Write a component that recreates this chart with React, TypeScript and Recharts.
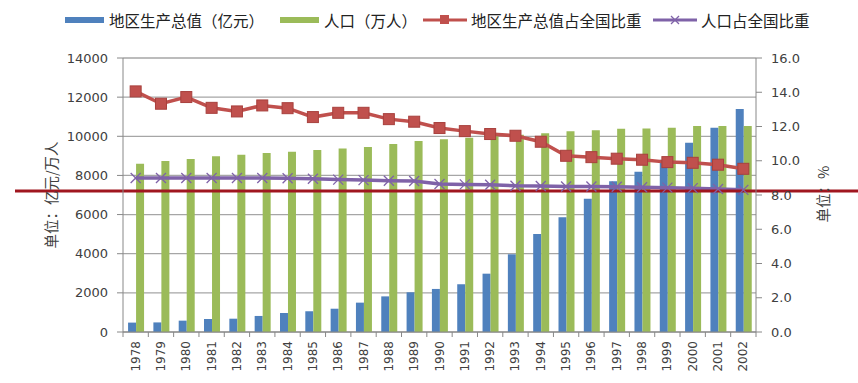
import {
  ComposedChart,
  Bar,
  Line,
  XAxis,
  YAxis,
  CartesianGrid,
  ReferenceLine,
} from 'recharts';

const years = [
  '1978', '1979', '1980', '1981', '1982', '1983', '1984', '1985', '1986', '1987',
  '1988', '1989', '1990', '1991', '1992', '1993', '1994', '1995', '1996', '1997',
  '1998', '1999', '2000', '2001', '2002',
];

// 地区生产总值（亿元）
const gdp = [
  480, 490, 580, 665, 680, 820, 970, 1060, 1190, 1500,
  1820, 2030, 2200, 2440, 2980, 3970, 5010, 5860, 6810, 7700,
  8190, 8800, 9675, 10440, 11400,
];

// 人口（万人）
const population = [
  8600, 8740, 8840, 8980, 9060, 9150, 9215, 9300, 9370, 9455,
  9607, 9760, 9845, 9930, 10000, 10080, 10160, 10255, 10305, 10390,
  10400, 10440, 10525, 10530, 10530,
];

// 地区生产总值占全国比重 (%)
const gdpShare = [
  14.05, 13.33, 13.72, 13.09, 12.88, 13.23, 13.07, 12.55, 12.8, 12.8,
  12.43, 12.28, 11.91, 11.73, 11.56, 11.46, 11.11, 10.29, 10.21, 10.12,
  10.06, 9.92, 9.88, 9.77, 9.53,
];

// 人口占全国比重 (%)
const popShare = [
  8.99, 8.99, 8.99, 8.99, 8.99, 8.99, 8.98, 8.95, 8.9, 8.87,
  8.83, 8.82, 8.64, 8.62, 8.6, 8.54, 8.53, 8.5, 8.5, 8.48,
  8.45, 8.43, 8.4, 8.35, 8.3,
];

const leftTicks = [0, 2000, 4000, 6000, 8000, 10000, 12000, 14000];
const rightTicks = [0, 2, 4, 6, 8, 10, 12, 14, 16];
const markLine = 7200;

const data = years.map((year, i) => ({
  year,
  gdp: gdp[i],
  population: population[i],
  gdpShare: gdpShare[i],
  popShare: popShare[i],
}));

const BLUE = '#4F81BD';
const GREEN = '#9BBB59';
const RED = '#C0504D';
const PURPLE = '#7F62A8';
const CJK = '"Noto Sans CJK SC", sans-serif';
const NUM = '"DejaVu Sans", sans-serif';

const W = 858;
const H = 383;
const PLOT_W = 858 - 123 - 102;
const BAND = PLOT_W / years.length;

function XTick(props: any) {
  const { x, y, payload, index } = props;
  const axisY = y - 8;
  return (
    <g>
      <line x1={x - BAND / 2} x2={x - BAND / 2} y1={axisY} y2={axisY + 5} stroke="#888" />
      {index === years.length - 1 && (
        <line x1={x + BAND / 2} x2={x + BAND / 2} y1={axisY} y2={axisY + 5} stroke="#888" />
      )}
      <text
        x={x}
        y={y + 1}
        transform={`rotate(-90 ${x} ${y + 1})`}
        textAnchor="end"
        dominantBaseline="central"
        fontFamily={NUM}
        fontSize={12}
        fill="#404040"
      >
        {payload.value}
      </text>
    </g>
  );
}

function SquareDot(props: any) {
  const { cx, cy } = props;
  if (cx == null || cy == null) return null;
  return <rect x={cx - 5.5} y={cy - 5.5} width={11} height={11} fill={RED} stroke="#A8403D" strokeWidth={1} />;
}

function CrossDot(props: any) {
  const { cx, cy } = props;
  if (cx == null || cy == null) return null;
  const s = 5;
  return (
    <g stroke={PURPLE} strokeWidth={1.3}>
      <line x1={cx - s} y1={cy - s} x2={cx + s} y2={cy + s} />
      <line x1={cx - s} y1={cy + s} x2={cx + s} y2={cy - s} />
    </g>
  );
}

function AxisTitle({ cx, cy, text }: { cx: number; cy: number; text: string }) {
  return (
    <text
      transform={`translate(${cx},${cy}) rotate(-90)`}
      textAnchor="middle"
      dominantBaseline="central"
      fontFamily={CJK}
      fontSize={14.5}
      fill="#404040"
    >
      {text}
    </text>
  );
}

const legendItems = [
  { label: '地区生产总值（亿元）', color: BLUE, kind: 'bar', left: 65 },
  { label: '人口（万人）', color: GREEN, kind: 'bar', left: 280 },
  { label: '地区生产总值占全国比重', color: RED, kind: 'square', left: 423 },
  { label: '人口占全国比重', color: PURPLE, kind: 'cross', left: 653 },
];

function LegendSwatch({ color, kind }: { color: string; kind: string }) {
  if (kind === 'bar') {
    return (
      <svg width={40} height={12} style={{ display: 'block' }}>
        <rect x={0} y={3} width={39} height={6} fill={color} />
      </svg>
    );
  }
  return (
    <svg width={44} height={12} style={{ display: 'block' }}>
      <line x1={0} x2={44} y1={6} y2={6} stroke={color} strokeWidth={3} />
      {kind === 'square' ? (
        <rect x={17} y={1} width={9} height={9} fill={color} />
      ) : (
        <g stroke={color} strokeWidth={1.2}>
          <line x1={18} y1={2} x2={26} y2={10} />
          <line x1={18} y1={10} x2={26} y2={2} />
        </g>
      )}
    </svg>
  );
}

export default function App() {
  return (
    <div style={{ position: 'relative', width: W, height: H, background: '#fff' }}>
      <style>{'body{margin:0}'}</style>
      {legendItems.map((item) => (
        <div
          key={item.label}
          style={{
            position: 'absolute',
            left: item.left,
            top: 10,
            height: 20,
            display: 'flex',
            alignItems: 'center',
            gap: 4,
            fontFamily: CJK,
            fontSize: 15.5,
            color: '#222',
            whiteSpace: 'nowrap',
          }}
        >
          <LegendSwatch color={item.color} kind={item.kind} />
          <span>{item.label}</span>
        </div>
      ))}
      <ComposedChart
        width={W}
        height={H}
        data={data}
        margin={{ top: 58, right: 0, bottom: 0, left: 0 }}
        barCategoryGap="20%"
        barGap={0}
      >
        <CartesianGrid vertical={false} stroke="#A6A6A6" strokeWidth={1.3} yAxisId="left" />
        <XAxis
          dataKey="year"
          interval={0}
          height={51}
          tick={<XTick />}
          tickLine={{ stroke: 'none' }}
          axisLine={{ stroke: '#888' }}
        />
        <YAxis
          yAxisId="left"
          width={123}
          domain={[0, 14000]}
          ticks={leftTicks}
          tickSize={6}
          tickMargin={9}
          tick={{ fontFamily: NUM, fontSize: 13, fill: '#404040' }}
          axisLine={{ stroke: '#888' }}
          tickLine={{ stroke: '#888' }}
          label={<AxisTitle cx={50} cy={195} text="单位：亿元/万人" />}
        />
        <YAxis
          yAxisId="right"
          orientation="right"
          width={102}
          domain={[0, 16]}
          ticks={rightTicks}
          tickFormatter={(v: number) => v.toFixed(1)}
          tickSize={6}
          tickMargin={9}
          tick={{ fontFamily: NUM, fontSize: 13, fill: '#404040' }}
          axisLine={{ stroke: '#888' }}
          tickLine={{ stroke: '#888' }}
          label={<AxisTitle cx={822} cy={194} text="单位：%" />}
        />
        <Bar yAxisId="left" dataKey="gdp" fill={BLUE} isAnimationActive={false} />
        <Bar yAxisId="left" dataKey="population" fill={GREEN} isAnimationActive={false} />
        <Line
          yAxisId="right"
          dataKey="popShare"
          stroke={PURPLE}
          strokeWidth={3.5}
          dot={<CrossDot />}
          activeDot={false}
          isAnimationActive={false}
        />
        <Line
          yAxisId="right"
          dataKey="gdpShare"
          stroke={RED}
          strokeWidth={3.5}
          dot={<SquareDot />}
          activeDot={false}
          isAnimationActive={false}
        />
        <ReferenceLine
          yAxisId="left"
          y={markLine}
          shape={(p: any) => (
            <line x1={15} x2={W} y1={p.y1} y2={p.y2} stroke="#A0161F" strokeWidth={3} />
          )}
        />
      </ComposedChart>
    </div>
  );
}
